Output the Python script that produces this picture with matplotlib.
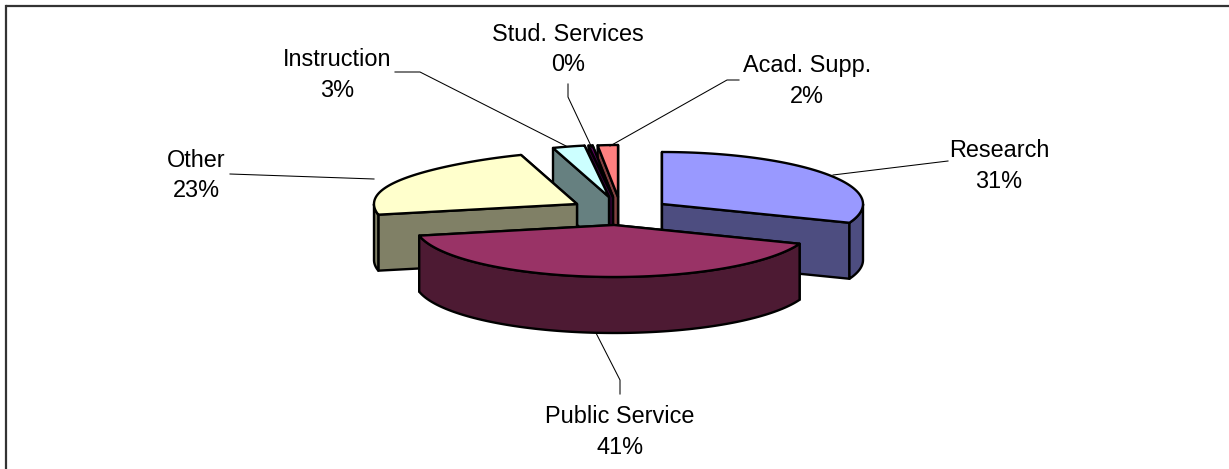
import numpy as np
import matplotlib
matplotlib.use("Agg")
import matplotlib.pyplot as plt

plt.rcParams["font.family"] = ["Liberation Sans", "DejaVu Sans"]

labels = ["Research", "Public Service", "Other", "Instruction", "Stud. Services", "Acad. Supp."]
shown = ["31%", "41%", "23%", "3%", "0%", "2%"]
shares = [31, 41, 23, 3, 0.4, 2]

top_colors = ["#9999FF", "#993366", "#FFFFCC", "#CCFFFF", "#660066", "#FF8080"]
side_colors = ["#4D4D80", "#4D1A33", "#808066", "#668080", "#330033", "#804040"]

# layout in pixels of the 1229x469 picture
apex_x = [662, 614, 577, 609, 613, 618]
apex_y = [204, 225, 204, 197, 197, 197]
radius_x = [201, 199, 203, 203, 203, 203]
taper = [0, 0, 0.2, 0.2, 0.2, 0.2]
ry, depth = 52, 56
draw_order = [5, 4, 3, 2, 0, 1]
text_xy = [(999, 166), (620, 432), (196, 175.5), (337, 75), (568, 49.5), (807, 81)]
leaders = [
    [(948, 161), (833, 175)],
    [(620, 394), (620, 380), (596, 333)],
    [(230, 174), (374, 179)],
    [(395, 72), (420, 72), (566, 146)],
    [(568, 84), (568, 97), (592, 148)],
    [(739, 80), (727, 80), (610, 146)],
]


def rim(i, th):
    # back of the disc is narrower on the left slices, a rough stand-in for perspective
    persp = 1 - taper[i] * np.clip(np.cos(th), 0, 1) ** 3
    return apex_x[i] + radius_x[i] * persp * np.sin(th), apex_y[i] - ry * np.cos(th)


fig = plt.figure(figsize=(12.29, 4.69), dpi=100)
ax = fig.add_axes([0, 0, 1, 1])
ax.set_xlim(0, 1229)
ax.set_ylim(469, 0)
ax.axis("off")

edges = np.cumsum([0] + shares) / sum(shares) * 2 * np.pi
line = dict(edgecolor="black", linewidth=1.7, joinstyle="round")

for i in draw_order:
    t0, t1 = edges[i], edges[i + 1]
    faces = []
    for t in (t0, t1):
        ex, ey = rim(i, t)
        faces.append(([ex, apex_x[i], apex_x[i], ex],
                      [ey, apex_y[i], apex_y[i] + depth, ey + depth]))
    faces.sort(key=lambda f: np.mean(f[1]))
    for fx, fy in faces:
        ax.fill(fx, fy, facecolor=side_colors[i], **line)

    # outer wall, only the part that faces the viewer
    lo, hi = max(t0, np.pi / 2), min(t1, 3 * np.pi / 2)
    if hi > lo:
        th = np.linspace(lo, hi, 120)
        wx, wy = rim(i, th)
        ax.fill(np.r_[wx, wx[::-1]], np.r_[wy, wy[::-1] + depth],
                facecolor=side_colors[i], **line)

    th = np.linspace(t0, t1, 120)
    tx, ty = rim(i, th)
    ax.fill(np.r_[apex_x[i], tx], np.r_[apex_y[i], ty], facecolor=top_colors[i], **line)

for pts in leaders:
    ax.plot(*zip(*pts), color="black", lw=0.75, zorder=1)

for i in range(len(labels)):
    ax.text(*text_xy[i], labels[i] + "\n" + shown[i], ha="center", va="center",
            fontsize=16.9, linespacing=1.42, color="black")

ax.plot([6, 6], [469, 6], color="#333333", lw=1.6, solid_capstyle="projecting")
ax.plot([6, 1229], [6, 6], color="#333333", lw=1.6, solid_capstyle="butt")

fig.savefig("out.png", dpi=100)
